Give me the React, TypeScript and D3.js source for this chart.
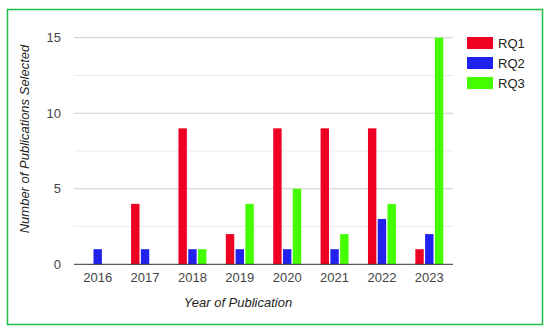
import * as d3 from 'd3';
import React, { useRef, useEffect } from 'react';

const years = ['2016', '2017', '2018', '2019', '2020', '2021', '2022', '2023'];
const rq1 = [0, 4, 9, 2, 9, 9, 9, 1];
const rq2 = [1, 1, 1, 1, 1, 1, 3, 2];
const rq3 = [0, 0, 1, 4, 5, 2, 4, 15];
const seriesNames = ['RQ1', 'RQ2', 'RQ3'];
const yTicks = [0, 5, 10, 15];

const colors = ['#ee0022', '#2222ee', '#44ff00'];

function App() {
  const ref = useRef<SVGSVGElement>(null);
  const width = 550, height = 333;
  const margin = { top: 37.7, right: 97, bottom: 68.7, left: 74 };

  useEffect(() => {
    const svg = d3.select(ref.current);
    svg.selectAll('*').remove();

    const innerW = width - margin.left - margin.right;
    const innerH = height - margin.top - margin.bottom;
    const font = '"Liberation Sans", Arial, sans-serif';

    // green frame
    svg.append('rect')
      .attr('x', 7.5).attr('y', 9.5)
      .attr('width', 535).attr('height', 315)
      .attr('fill', 'white')
      .attr('stroke', '#1fbf4a')
      .attr('stroke-width', 1.5);

    const g = svg.append('g').attr('transform', `translate(${margin.left},${margin.top})`);

    const x0 = d3.scaleBand().domain(years).range([0, innerW]).paddingInner(0).paddingOuter(0);
    const x1 = d3.scaleBand().domain(seriesNames).range([0, x0.bandwidth() * 0.59]).paddingInner(0.14);
    const y = d3.scaleLinear().domain([0, 15]).range([innerH, 0]);

    // grid lines (minor + major)
    const grid = d3.range(0, 15.01, 2.5);
    g.selectAll('.grid')
      .data(grid.filter(v => v > 0))
      .enter().append('line')
      .attr('x1', 0).attr('x2', innerW)
      .attr('y1', d => y(d)).attr('y2', d => y(d))
      .attr('stroke', d => (d % 5 === 0 ? '#cccccc' : '#ebebeb'))
      .attr('stroke-width', 1);

    const data = years.map((yr, i) => ({ yr, vals: [rq1[i], rq2[i], rq3[i]] }));
    const offset = (x0.bandwidth() - x0.bandwidth() * 0.59) / 2;

    const groups = g.selectAll('.year')
      .data(data)
      .enter().append('g')
      .attr('transform', d => `translate(${(x0(d.yr) as number) + offset},0)`);

    groups.selectAll('rect')
      .data(d => d.vals.map((v, k) => ({ v, k })))
      .enter().append('rect')
      .attr('x', d => x1(seriesNames[d.k]) as number)
      .attr('y', d => y(d.v))
      .attr('width', x1.bandwidth())
      .attr('height', d => innerH - y(d.v))
      .attr('fill', d => colors[d.k]);

    // baseline
    g.append('line')
      .attr('x1', 0).attr('x2', innerW)
      .attr('y1', innerH).attr('y2', innerH)
      .attr('stroke', '#333333').attr('stroke-width', 1);

    // y tick labels
    g.selectAll('.ytick')
      .data(yTicks)
      .enter().append('text')
      .attr('x', -13)
      .attr('y', d => y(d))
      .attr('dy', '0.35em')
      .attr('text-anchor', 'end')
      .style('font-family', font).style('font-size', '13px')
      .attr('fill', '#444444')
      .text(d => d);

    // x tick labels
    g.selectAll('.xtick')
      .data(years)
      .enter().append('text')
      .attr('x', d => (x0(d) as number) + x0.bandwidth() / 2)
      .attr('y', innerH + 18)
      .attr('text-anchor', 'middle')
      .style('font-family', font).style('font-size', '13px')
      .attr('fill', '#444444')
      .text(d => d);

    // axis titles
    svg.append('text')
      .attr('x', 238).attr('y', 307)
      .attr('text-anchor', 'middle')
      .style('font-family', font).style('font-size', '13px').style('font-style', 'italic')
      .attr('fill', '#222222')
      .text('Year of Publication');

    svg.append('text')
      .attr('transform', 'translate(29,139) rotate(-90)')
      .attr('text-anchor', 'middle')
      .style('font-family', font).style('font-size', '13px').style('font-style', 'italic')
      .attr('fill', '#222222')
      .text('Number of Publications Selected');

    // legend
    const legend = svg.append('g').attr('transform', 'translate(467,37)');
    seriesNames.forEach((name, i) => {
      legend.append('rect')
        .attr('x', 0).attr('y', i * 20)
        .attr('width', 26).attr('height', 12)
        .attr('fill', colors[i]);
      legend.append('text')
        .attr('x', 31).attr('y', i * 20 + 6)
        .attr('dy', '0.35em')
        .style('font-family', font).style('font-size', '13px')
        .attr('fill', '#222222')
        .text(name);
    });
  }, []);

  return (
    <div style={{ position: 'absolute', left: 0, top: 0 }}>
      <svg ref={ref} width={width} height={height} style={{ display: 'block' }}></svg>
    </div>
  );
}

export default App;
